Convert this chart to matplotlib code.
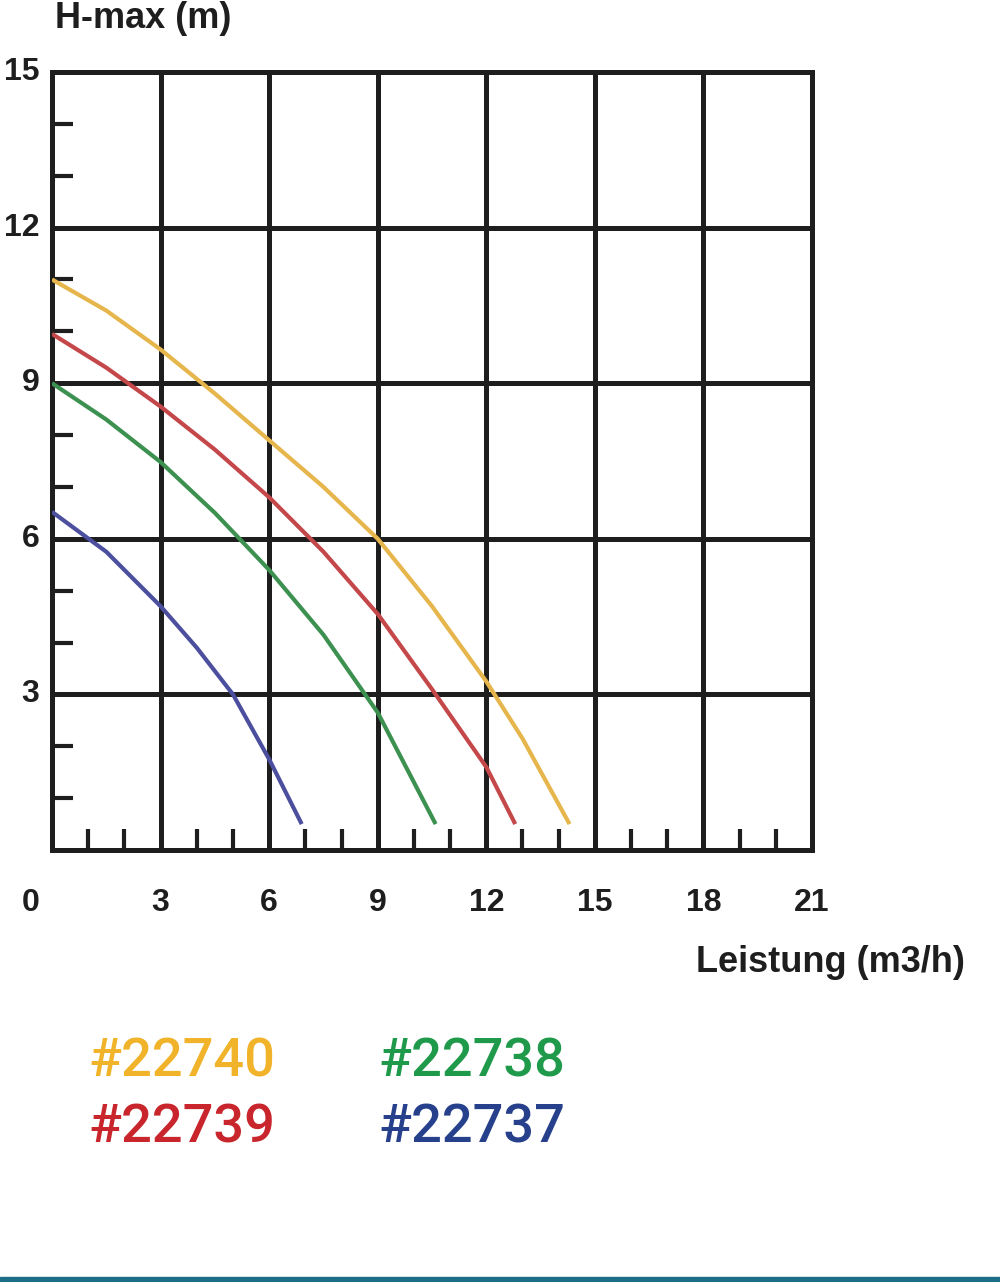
import numpy as np
import matplotlib.pyplot as plt
from matplotlib.patches import Rectangle

# pump curves (flow m3/h, head m)
x_22740 = [0, 1.5, 3, 4.5, 6, 7.5, 9, 10.5, 12, 13, 14.3]
y_22740 = [11.0, 10.4, 9.65, 8.8, 7.9, 7.0, 6.0, 4.7, 3.25, 2.15, 0.5]

x_22739 = [0, 1.5, 3, 4.5, 6, 7.5, 9, 10.5, 12, 12.8]
y_22739 = [9.95, 9.3, 8.55, 7.72, 6.8, 5.75, 4.55, 3.1, 1.6, 0.5]

x_22738 = [0, 1.5, 3, 4.5, 6, 7.5, 9, 10.6]
y_22738 = [9.0, 8.3, 7.48, 6.5, 5.4, 4.15, 2.65, 0.5]

x_22737 = [0, 1.5, 3, 4, 5, 6, 6.9]
y_22737 = [6.52, 5.75, 4.7, 3.9, 3.0, 1.75, 0.5]

labels = ['#22740', '#22739', '#22738', '#22737']
curve_colors = ['#e6b64c', '#c4474a', '#3d9150', '#4b4f9e']
text_colors = ['#f0b32a', '#c8262c', '#1f9a4a', '#27408b']

x_ticks = [3, 6, 9, 12, 15, 18, 21]
y_ticks = [3, 6, 9, 12, 15]

fnt = ['Liberation Sans', 'DejaVu Sans']
ink = '#1e1e1e'

fig = plt.figure(figsize=(10, 12.82), dpi=100)
ax = fig.add_axes([0.052, 1 - 850 / 1282, 0.76, (850 - 72) / 1282])
ax.set_xlim(0, 21)
ax.set_ylim(0, 15)

curves = [(x_22740, y_22740), (x_22739, y_22739), (x_22738, y_22738), (x_22737, y_22737)]
for (xs, ys), c in zip(curves, curve_colors):
    ax.plot(xs, ys, color=c, lw=3.0, solid_capstyle='butt', solid_joinstyle='round', zorder=3)

# thick grid
ax.set_xticks(np.arange(0, 22, 3))
ax.set_yticks(np.arange(0, 16, 3))
ax.set_xticks([v for v in range(22) if v % 3], minor=True)
ax.set_yticks([v for v in range(16) if v % 3], minor=True)
ax.grid(which='major', color=ink, lw=3.6, zorder=1)
for s in ax.spines.values():
    s.set_linewidth(3.6)
    s.set_color(ink)
ax.tick_params(which='major', length=0, labelbottom=False, labelleft=False)
ax.tick_params(which='minor', direction='in', length=15, width=3, color=ink)

# tick labels
for v in x_ticks:
    ax.text(v, -53 / 51.87, str(v), ha='center', va='center', fontsize=23,
            fontweight='bold', family=fnt, color=ink)
ax.text(-0.6, -53 / 51.87, '0', ha='center', va='center', fontsize=23,
        fontweight='bold', family=fnt, color=ink, clip_on=False)
for v in y_ticks:
    ax.text(-0.35, v, str(v), ha='right', va='center', fontsize=23,
            fontweight='bold', family=fnt, color=ink)

fig.text(0.055, 1 - 18 / 1282, 'H-max (m)', ha='left', va='center', fontsize=26,
         fontweight='bold', family=fnt, color=ink)
fig.text(0.965, 1 - 963 / 1282, 'Leistung (m3/h)', ha='right', va='center', fontsize=26,
         fontweight='bold', family=fnt, color=ink)

# legend as coloured text
pos = [(88, 1062), (88, 1128), (378, 1062), (378, 1128)]
for lab, c, (px, py) in zip(labels, text_colors, pos):
    fig.text(px / 1000, 1 - py / 1282, lab, ha='left', va='center', fontsize=39,
             fontweight='medium', family=['Roboto', 'DejaVu Sans'], color=c)

fig.patches.append(Rectangle((0, 0), 1, 5 / 1282, transform=fig.transFigure,
                             color='#1b6d88', zorder=5))

fig.savefig('out.png', dpi=100)
